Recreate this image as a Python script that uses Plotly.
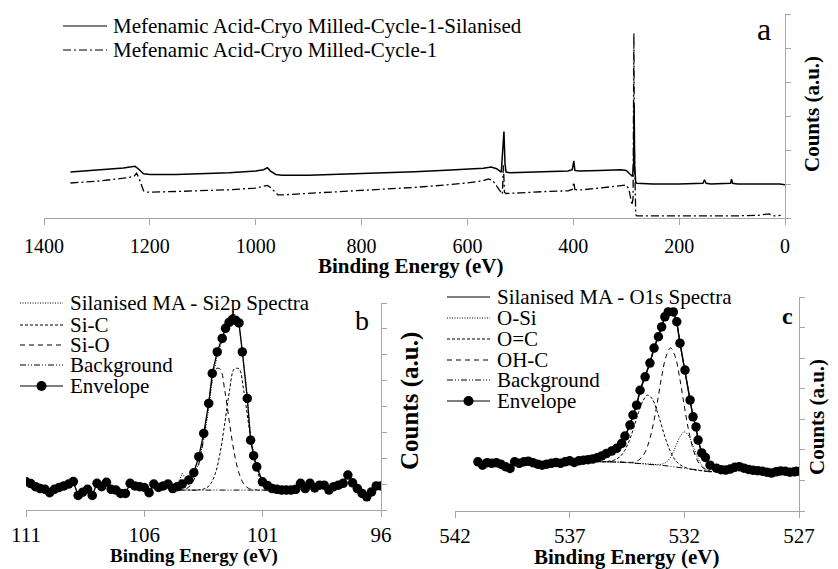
import plotly.graph_objects as go

W, H = 838, 569
def px(x): return x / W
def py(y): return 1 - y / H

FONT = "Liberation Serif, Times New Roman, DejaVu Serif, serif"

# ---------------- Panel a: survey spectra ----------------
sil_ev = [1350, 1300, 1250, 1228, 1222, 1212, 1200, 1150, 1100, 1050, 1000, 985, 978, 972, 962,
          950, 900, 850, 800, 750, 700, 650, 600, 570, 555, 545, 536, 533, 531, 529, 527, 520,
          500, 450, 410, 402, 399, 397, 390, 350, 310, 300, 292, 288, 286, 285, 284, 282, 280,
          250, 200, 160, 155, 152, 149, 140, 110, 103, 101, 99, 90, 50, 20, 10, 0]
sil_counts = [1.35, 1.40, 1.47, 1.52, 1.45, 1.30, 1.28, 1.28, 1.30, 1.33, 1.38, 1.42, 1.48, 1.38, 1.28,
              1.26, 1.26, 1.28, 1.30, 1.33, 1.36, 1.40, 1.43, 1.46, 1.50, 1.45, 1.35, 2.00, 2.54, 1.60, 1.35, 1.33,
              1.34, 1.36, 1.38, 1.42, 1.68, 1.40, 1.38, 1.40, 1.42, 1.40, 1.28, 1.22, 1.60, 3.32, 1.50, 1.05, 1.02,
              1.00, 1.00, 1.00, 1.02, 1.12, 1.02, 1.00, 1.00, 1.02, 1.14, 1.02, 1.00, 1.00, 1.02, 1.00, 0.98]

unsil_ev = [1350, 1300, 1250, 1230, 1225, 1220, 1212, 1205, 1150, 1100, 1050, 1000, 985, 978, 972,
            965, 958, 950, 900, 850, 800, 750, 700, 650, 600, 570, 560, 552, 545, 538, 534, 532, 530,
            527, 520, 500, 450, 410, 402, 399, 397, 390, 350, 310, 300, 295, 291, 289, 287, 285.5,
            284.5, 283.5, 282, 280, 250, 200, 150, 100, 50, 30, 20, 8]
unsil_counts = [1.03, 1.08, 1.17, 1.22, 1.32, 1.15, 0.80, 0.76, 0.78, 0.80, 0.83, 0.88, 0.93, 0.96, 0.90,
                0.80, 0.68, 0.68, 0.72, 0.76, 0.80, 0.85, 0.90, 0.96, 1.03, 1.10, 1.15, 1.10, 0.95, 0.78, 0.70, 1.55, 0.75,
                0.72, 0.72, 0.74, 0.78, 0.80, 0.84, 1.05, 0.84, 0.82, 0.88, 0.95, 0.97, 0.85, 0.50, 0.38, 0.60, 5.44,
                2.00, 0.30, 0.10, 0.06, 0.06, 0.05, 0.06, 0.06, 0.08, 0.12, 0.06, 0.08]

a_ticks = [1400, 1200, 1000, 800, 600, 400, 200, 0]
a_names = ["Mefenamic Acid-Cryo Milled-Cycle-1-Silanised", "Mefenamic Acid-Cryo Milled-Cycle-1"]

# ---------------- Panel b: Si2p ----------------
b_env_ev = [111.0, 110.8, 110.6, 110.4, 110.2, 110.0, 109.8, 109.6, 109.4, 109.2, 109.0, 108.8, 108.6,
            108.4, 108.2, 108.0, 107.8, 107.6, 107.4, 107.2, 107.0, 106.8, 106.6, 106.4, 106.2, 106.0,
            105.8, 105.6, 105.4, 105.2, 105.0, 104.8, 104.61, 104.4, 104.12, 103.91, 103.70, 103.49,
            103.28, 103.13, 102.92, 102.71, 102.57, 102.42, 102.28, 102.14, 102.00, 101.86, 101.65,
            101.51, 101.38, 101.25, 101.01, 100.8, 100.6, 100.4, 100.2, 100.0, 99.8, 99.6, 99.4, 99.2,
            99.0, 98.8, 98.6, 98.4, 98.2, 98.0, 97.8, 97.6, 97.4, 97.2, 97.0, 96.8, 96.6, 96.4, 96.2, 96.0]
b_env = [1.09, 1.02, 0.90, 0.83, 0.80, 0.67, 0.80, 0.87, 0.93, 1.00, 1.10, 0.56, 0.69,
         0.80, 0.56, 1.03, 0.90, 1.07, 0.80, 0.77, 0.64, 0.64, 1.03, 0.93, 0.90, 0.87,
         0.67, 1.00, 0.87, 0.93, 1.00, 0.83, 0.90, 1.00, 1.16, 1.44, 2.06, 2.96,
         4.12, 5.28, 6.11, 6.63, 7.02, 7.25, 7.36, 7.33, 7.23, 6.11, 4.31,
         2.70, 2.10, 1.67, 1.09, 0.95, 0.83, 0.80, 0.77, 0.77, 0.77, 0.80, 1.03, 0.83,
         1.03, 0.85, 0.96, 0.96, 0.77, 0.90, 0.96, 1.03, 1.35, 1.05, 0.83, 0.64, 0.51, 0.70, 0.93, 0.93]
b_raw = [1.09, 1.02, 0.90, 0.83, 0.80, 0.67, 0.80, 0.87, 0.93, 1.00, 1.10, 0.56, 0.69,
         0.80, 0.56, 1.03, 0.90, 1.07, 0.80, 0.77, 0.64, 0.64, 1.03, 0.93, 0.90, 0.87,
         0.67, 1.00, 0.87, 0.93, 1.00, 0.83, 0.90, 1.42, 1.05, 1.30, 1.85, 2.70,
         3.90, 5.05, 5.95, 6.55, 6.95, 7.20, 7.32, 7.30, 7.10, 6.20, 4.45,
         2.85, 2.20, 1.75, 1.12, 0.95, 0.83, 0.80, 0.77, 0.77, 0.77, 0.80, 1.03, 0.83,
         1.03, 0.85, 0.96, 0.96, 0.77, 0.90, 0.96, 1.03, 1.35, 1.05, 0.83, 0.64, 0.51, 0.70, 0.93, 0.93]
b_comp_ev = [104.6, 104.4, 104.2, 104.0, 103.8, 103.6, 103.4, 103.2, 103.0, 102.8, 102.6, 102.4, 102.2,
             102.0, 101.8, 101.6, 101.4, 101.2, 101.0, 100.8, 100.6]
b_sic = [0.77, 0.77, 0.77, 0.77, 0.77, 0.79, 0.84, 1.01, 1.42, 2.20, 3.36, 4.61, 5.45,
         5.45, 4.61, 3.36, 2.20, 1.42, 1.01, 0.84, 0.79]
b_sio = [0.77, 0.79, 0.84, 1.01, 1.42, 2.20, 3.36, 4.61, 5.45, 5.45, 4.61, 3.36, 2.20,
         1.42, 1.01, 0.84, 0.79, 0.77, 0.77, 0.77, 0.77]
b_bg = [0.77, 0.77, 0.77, 0.77, 0.77, 0.77, 0.77, 0.77, 0.77, 0.77, 0.77, 0.77, 0.77,
        0.77, 0.77, 0.77, 0.77, 0.77, 0.77, 0.77, 0.77]
b_ticks = [111, 106, 101, 96]
b_names = ["Silanised MA - Si2p Spectra", "Si-C", "Si-O", "Background", "Envelope"]

# ---------------- Panel c: O1s ----------------
c_env_ev = [541.0, 540.8, 540.6, 540.4, 540.2, 540.0, 539.8, 539.6, 539.4, 539.2, 539.0, 538.8, 538.6,
            538.4, 538.2, 538.0, 537.8, 537.6, 537.4, 537.2, 537.0, 536.8, 536.6, 536.4, 536.2, 536.0,
            535.8, 535.6, 535.4, 535.17, 534.95, 534.73, 534.59, 534.37, 534.24, 534.08, 533.93, 533.71,
            533.50, 533.32, 533.13, 532.99, 532.85, 532.70, 532.48, 532.33, 532.19, 531.97, 531.75,
            531.62, 531.49, 531.40, 531.24, 531.08, 530.88, 530.6, 530.4, 530.2, 530.0, 529.8, 529.6,
            529.4, 529.2, 529.0, 528.8, 528.6, 528.4, 528.2, 528.0, 527.8, 527.6, 527.4, 527.2, 527.1]
c_env = [1.61, 1.50, 1.58, 1.56, 1.58, 1.53, 1.45, 1.39, 1.61, 1.56, 1.61, 1.63, 1.58,
         1.53, 1.50, 1.53, 1.56, 1.59, 1.56, 1.61, 1.64, 1.59, 1.64, 1.66, 1.68, 1.70,
         1.74, 1.80, 1.88, 1.96, 2.05, 2.21, 2.45, 2.81, 3.14, 3.46, 3.95, 4.39,
         4.84, 5.33, 5.70, 6.02, 6.35, 6.51, 6.51, 6.19, 5.49, 4.61, 3.63,
         3.08, 2.75, 2.32, 1.90, 1.75, 1.50, 1.40, 1.35, 1.34, 1.37, 1.43, 1.45,
         1.40, 1.36, 1.33, 1.32, 1.30, 1.27, 1.24, 1.28, 1.31, 1.30, 1.27, 1.28, 1.30]
c_raw = list(c_env)
c_comp_ev = [536.0, 535.8, 535.6, 535.4, 535.2, 535.0, 534.8, 534.6, 534.4, 534.2, 534.0, 533.8, 533.6,
             533.4, 533.2, 533.0, 532.8, 532.6, 532.4, 532.2, 532.0, 531.8, 531.6, 531.4, 531.2, 531.0, 530.8]
c_bg = [1.62, 1.62, 1.61, 1.61, 1.61, 1.60, 1.60, 1.59, 1.58, 1.57, 1.56, 1.55, 1.54,
        1.53, 1.51, 1.50, 1.48, 1.46, 1.44, 1.42, 1.40, 1.37, 1.35, 1.33, 1.31, 1.29, 1.28]
c_osi = [1.62, 1.62, 1.61, 1.61, 1.61, 1.60, 1.60, 1.59, 1.58, 1.57, 1.56, 1.55, 1.54,
         1.53, 1.52, 1.53, 1.59, 1.76, 2.07, 2.41, 2.59, 2.45, 2.09, 1.72, 1.46, 1.34, 1.29]
c_oc = [1.62, 1.62, 1.61, 1.62, 1.64, 1.68, 1.78, 1.98, 2.30, 2.74, 3.22, 3.61, 3.79,
        3.67, 3.30, 2.81, 2.32, 1.94, 1.67, 1.52, 1.44, 1.38, 1.35, 1.33, 1.31, 1.29, 1.28]
c_ohc = [1.62, 1.62, 1.61, 1.61, 1.61, 1.60, 1.60, 1.59, 1.59, 1.60, 1.66, 1.81, 2.13,
         2.68, 3.46, 4.34, 5.05, 5.33, 5.06, 4.34, 3.43, 2.59, 1.98, 1.61, 1.42, 1.33, 1.29]
c_ticks = [542, 537, 532, 527]
c_names = ["Silanised MA - O1s Spectra", "O-Si", "O=C", "OH-C", "Background", "Envelope"]

# ---------------- styles ----------------
DOT = "1px,1.5px"
SHORTDASH = "3px,2px"
DASH = "5px,4px"
BGDASH = "6px,2px,1px,2px,1px,2px"
A_DASHDOT = "8px,3px,2px,3px"

fig = go.Figure()

def line(x, y, ax, dash="solid", width=1.0, shape="linear"):
    fig.add_trace(go.Scatter(x=x, y=y, mode="lines", xaxis=ax[0], yaxis=ax[1],
                             line=dict(color="black", width=width, dash=dash, shape=shape),
                             showlegend=False, hoverinfo="skip"))

# panel a
line(unsil_ev, unsil_counts, ("x", "y"), dash=A_DASHDOT, width=1.3)
line(sil_ev, sil_counts, ("x", "y"), width=1.5)

# panel b
line(b_comp_ev, b_bg, ("x2", "y2"), dash=BGDASH, width=1)
line(b_comp_ev, b_sic, ("x2", "y2"), dash=SHORTDASH, width=1, shape="spline")
line(b_comp_ev, b_sio, ("x2", "y2"), dash=DASH, width=1, shape="spline")
line(b_env_ev, b_raw, ("x2", "y2"), dash=DOT, width=1)
fig.add_trace(go.Scatter(x=b_env_ev, y=b_env, mode="lines+markers", xaxis="x2", yaxis="y2",
                         line=dict(color="black", width=1.3),
                         marker=dict(color="black", size=9.5, symbol="circle"),
                         showlegend=False, hoverinfo="skip"))

# panel c
line(c_comp_ev, c_bg, ("x3", "y3"), dash=BGDASH, width=1)
line(c_comp_ev, c_osi, ("x3", "y3"), dash=DOT, width=1, shape="spline")
line(c_comp_ev, c_oc, ("x3", "y3"), dash=SHORTDASH, width=1, shape="spline")
line(c_comp_ev, c_ohc, ("x3", "y3"), dash=DASH, width=1, shape="spline")
line(c_env_ev, c_raw, ("x3", "y3"), width=1.3)
fig.add_trace(go.Scatter(x=c_env_ev, y=c_env, mode="lines+markers", xaxis="x3", yaxis="y3",
                         line=dict(color="black", width=1.3),
                         marker=dict(color="black", size=9.5, symbol="circle"),
                         showlegend=False, hoverinfo="skip"))

GRAY = "#a6a6a6"
def xax(dom, rng, ticks, anchor, size, standoff):
    return dict(domain=dom, range=rng, tickmode="array", tickvals=ticks, ticktext=[str(t) for t in ticks],
                anchor=anchor, showline=True, linecolor=GRAY, linewidth=1, ticks="outside",
                tickcolor=GRAY, ticklen=6, tickwidth=1, showgrid=False, zeroline=False, automargin=False,
                tickfont=dict(family=FONT, size=size, color="black"), ticklabelstandoff=standoff)

def yax(dom, n, anchor):
    return dict(domain=dom, range=[0, n], dtick=1, tick0=0, side="right", anchor=anchor,
                showline=True, linecolor=GRAY, linewidth=1, ticks="outside", tickcolor=GRAY, automargin=False,
                ticklen=5, tickwidth=1, showgrid=False, zeroline=False, showticklabels=False)

fig.update_layout(
    width=W, height=H, margin=dict(l=0, r=0, t=0, b=0, pad=0, autoexpand=False),
    paper_bgcolor="white", plot_bgcolor="white", showlegend=False,
    xaxis=xax([px(44), px(785)], [1400, 0], a_ticks, "y", 20, 4),
    yaxis=yax([py(218), py(14)], 6, "x"),
    xaxis2=xax([px(26), px(381)], [111, 96], b_ticks, "y2", 21, 0),
    yaxis2=yax([py(510), py(303)], 8, "x2"),
    xaxis3=xax([px(455), px(799)], [542, 527], c_ticks, "y3", 21, 0),
    yaxis3=yax([py(511), py(297)], 7, "x3"),
)

ann = []
shapes = []
def text(x, y, s, size, xanchor="center", angle=0):
    ann.append(dict(x=px(x), y=py(y), xref="paper", yref="paper", text=s, showarrow=False,
                    xanchor=xanchor, yanchor="middle", textangle=angle, borderpad=0,
                    font=dict(family=FONT, size=size, color="black")))

# axis titles
text(411, 266, "<b>Binding Energy (eV)</b>", 21)
text(194, 556, "<b>Binding Energy (eV)</b>", 19)
text(627, 557, "<b>Binding Energy (eV)</b>", 21)
text(812, 114, "<b>Counts (a.u.)</b>", 21, angle=-90)
text(410, 401, "<b>Counts (a.u.)</b>", 25, angle=-90)
text(817, 417, "<b>Counts (a.u.)</b>", 21, angle=-90)
# panel letters
text(764, 29, "a", 32)
text(362, 320, "b", 28)
text(787, 316, "<b>c</b>", 24)

def legend(x0, x1, xt, rows, items):
    for y, (name, dash, marker) in zip(rows, items):
        shapes.append(dict(type="line", xref="paper", yref="paper", x0=px(x0), x1=px(x1), y0=py(y), y1=py(y),
                           line=dict(color="black", width=1.2 if dash != DOT else 1, dash=dash)))
        if marker:
            xm = px((x0 + x1) / 2)
            shapes.append(dict(type="circle", xref="paper", yref="paper", xsizemode="pixel", ysizemode="pixel",
                               xanchor=xm, yanchor=py(y), x0=-5, x1=5, y0=-5, y1=5,
                               fillcolor="black", line=dict(color="black", width=0)))
        text(xt, y, name, 21, xanchor="left")

legend(63, 107, 112, [26, 50], [(a_names[0], "solid", False), (a_names[1], A_DASHDOT, False)])
legend(20, 63, 69, [303, 325, 345, 365, 386],
       [(b_names[0], DOT, False), (b_names[1], SHORTDASH, False), (b_names[2], DASH, False),
        (b_names[3], BGDASH, False), (b_names[4], "solid", True)])
legend(447, 490, 496, [297, 318, 339, 360, 380, 401],
       [(c_names[0], "solid", False), (c_names[1], DOT, False), (c_names[2], SHORTDASH, False),
        (c_names[3], DASH, False), (c_names[4], BGDASH, False), (c_names[5], "solid", True)])

fig.update_layout(annotations=ann, shapes=shapes)
fig.write_html("out.html")
